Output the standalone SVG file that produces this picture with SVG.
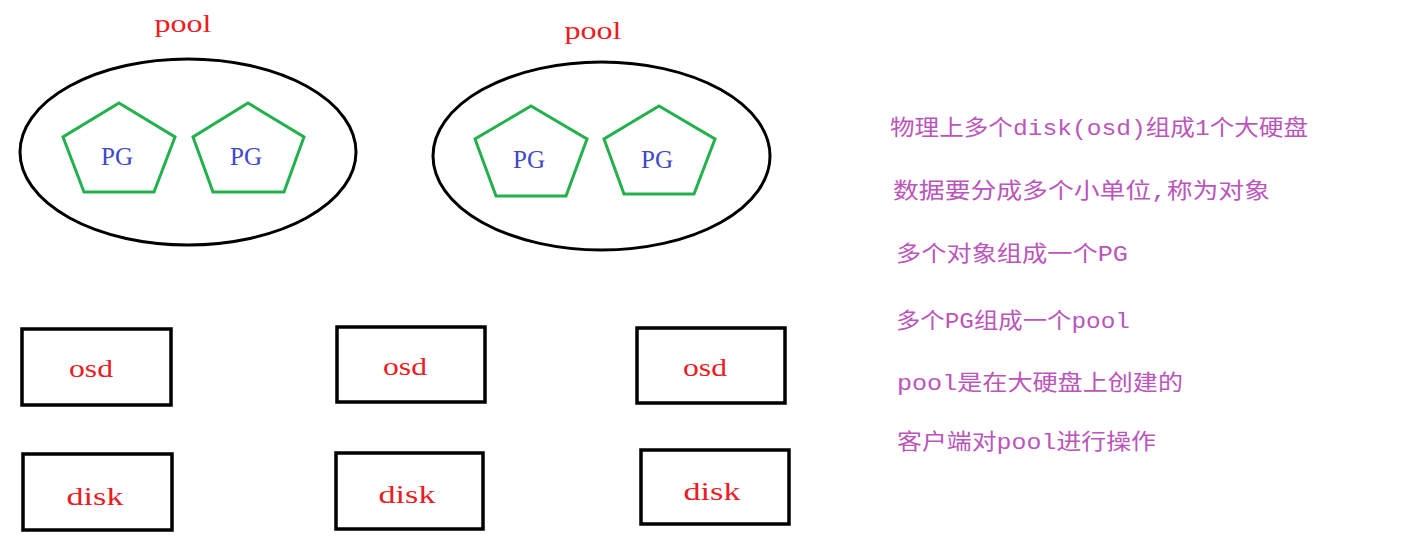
<svg xmlns="http://www.w3.org/2000/svg" width="1417" height="537" viewBox="0 0 1417 537">
<style>
.pool{fill:none;stroke:#000;stroke-width:3}
.pg{fill:none;stroke:#22b14c;stroke-width:3}
.pgt{font-family:"Liberation Serif",serif;font-size:25px;fill:#3f48cc;text-anchor:middle}
.box{fill:none;stroke:#000;stroke-width:3.5}
.red{font-family:"Liberation Serif",serif;font-size:26px;fill:#ed1c24;text-anchor:middle}
.note{font-family:"Liberation Mono","Noto Sans CJK SC",monospace;font-size:22px;fill:#bb55bb}
</style>
<rect width="1417" height="537" fill="#fff"/>
<g id="pool1">
<text class="red" x="183" y="32" textLength="57" lengthAdjust="spacingAndGlyphs">pool</text>
<ellipse class="pool" cx="188" cy="152" rx="168" ry="93"/>
</g>
<g id="pg1">
<polygon class="pg" points="119,103 175,137 154,192 84,192 63,137"/>
<text class="pgt" x="117" y="165">PG</text>
</g>
<g id="pg2">
<polygon class="pg" points="248,103 304,137 284,192 213,192 193,137"/>
<text class="pgt" x="246" y="165">PG</text>
</g>
<g id="pool2">
<text class="red" x="593" y="39" textLength="57" lengthAdjust="spacingAndGlyphs">pool</text>
<ellipse class="pool" cx="601.5" cy="156" rx="168.5" ry="94"/>
</g>
<g id="pg3">
<polygon class="pg" points="531,106 587,139 566,196 496,196 475,139"/>
<text class="pgt" x="529" y="168">PG</text>
</g>
<g id="pg4">
<polygon class="pg" points="659,106 715,139 694,194 624,194 604,139"/>
<text class="pgt" x="657" y="168">PG</text>
</g>
<g id="osd1"><rect class="box" x="22" y="329" width="149" height="76"/><text class="red" x="91" y="377" textLength="44" lengthAdjust="spacingAndGlyphs">osd</text></g>
<g id="osd2"><rect class="box" x="337" y="327" width="148" height="75"/><text class="red" x="405" y="375" textLength="44" lengthAdjust="spacingAndGlyphs">osd</text></g>
<g id="osd3"><rect class="box" x="637" y="328" width="148" height="75"/><text class="red" x="705" y="376" textLength="44" lengthAdjust="spacingAndGlyphs">osd</text></g>
<g id="disk1"><rect class="box" x="23" y="454" width="149" height="76"/><text class="red" x="95" y="505" textLength="57" lengthAdjust="spacingAndGlyphs">disk</text></g>
<g id="disk2"><rect class="box" x="336" y="453" width="147" height="76"/><text class="red" x="407" y="503" textLength="57" lengthAdjust="spacingAndGlyphs">disk</text></g>
<g id="disk3"><rect class="box" x="641" y="450" width="148" height="74"/><text class="red" x="712" y="500" textLength="57" lengthAdjust="spacingAndGlyphs">disk</text></g>
<g id="notes">
<text class="note" x="890" y="135" textLength="418" lengthAdjust="spacingAndGlyphs">物理上多个disk(osd)组成1个大硬盘</text>
<text class="note" x="893" y="198" textLength="377" lengthAdjust="spacingAndGlyphs">数据要分成多个小单位,称为对象</text>
<text class="note" x="896" y="261" textLength="232" lengthAdjust="spacingAndGlyphs">多个对象组成一个PG</text>
<text class="note" x="896" y="328" textLength="234" lengthAdjust="spacingAndGlyphs">多个PG组成一个pool</text>
<text class="note" x="897" y="390" textLength="286" lengthAdjust="spacingAndGlyphs">pool是在大硬盘上创建的</text>
<text class="note" x="897" y="449" textLength="259" lengthAdjust="spacingAndGlyphs">客户端对pool进行操作</text>
</g>
</svg>
